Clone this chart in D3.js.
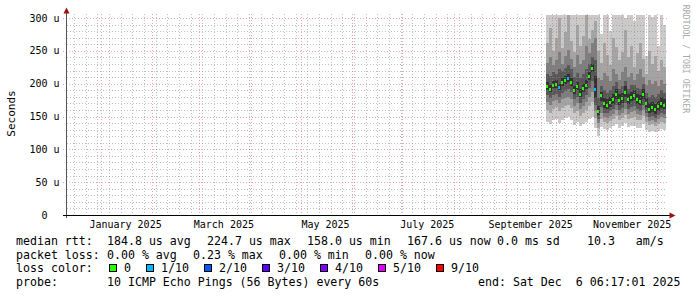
<!DOCTYPE html>
<html>
<head>
<meta charset="utf-8">
<script src="https://cdn.jsdelivr.net/npm/d3@7"></script>
<style>
    body { margin: 0; background: #fff; }
    svg { display: block; font-family: "DejaVu Sans Mono", monospace; }
</style>
</head>
<body>
<svg id="chart" width="697" height="297"></svg>
<script>
// time frame of the graph (last 360 days)
const endTime = new Date(Date.UTC(2025, 11, 6, 6, 17, 1))
const spanDays = 360
const dataStart = new Date(Date.UTC(2025, 8, 25, 6, 17, 1))
const stepHours = 43.2

// sorted pings per step, in microseconds (ping1 = fastest, ping10 = slowest)
const ping10 = [352, 338, 345, 360, 342, 336, 350, 365, 340, 334, 348, 339, 344, 358, 341, 347, 336,
    330, 276, 320, 312, 280, 335, 318, 308, 326, 300, 340, 315, 296, 322, 310, 328, 242, 312, 302, 318, 258, 306, 290]
const ping9 = [262, 285, 250, 270, 300, 255, 278, 310, 265, 248, 290, 258, 272, 305, 268, 282, 296,
    250, 232, 262, 244, 228, 270, 256, 236, 248, 282, 240, 258, 226, 246, 262, 238, 214, 250, 230, 242, 220, 236, 226]
const ping8 = [232, 240, 228, 236, 248, 230, 242, 252, 238, 226, 244, 230, 236, 258, 246, 262, 270,
    208, 205, 216, 212, 204, 222, 214, 206, 218, 226, 210, 216, 205, 214, 222, 210, 198, 206, 200, 204, 196, 206, 200]
const ping7 = [214, 212, 218, 215, 222, 220, 224, 228, 222, 210, 216, 208, 214, 222, 230, 240, 236,
    178, 196, 190, 186, 190, 196, 202, 192, 196, 204, 192, 198, 198, 194, 192, 200, 186, 180, 182, 180, 184, 190, 186]
const ping6 = [202, 198, 204, 206, 200, 209, 212, 214, 209, 196, 203, 192, 199, 206, 218, 230, 212,
    166, 188, 178, 176, 180, 184, 192, 184, 186, 196, 184, 188, 190, 184, 182, 192, 178, 170, 172, 169, 174, 179, 176]
const ping5 = [191, 188, 193, 194, 190, 197, 199, 202, 197, 185, 191, 179, 187, 192, 206, 218, 178,
    152, 174, 163, 161, 165, 169, 177, 168, 171, 180, 169, 173, 175, 169, 167, 177, 163, 155, 157, 154, 159, 163, 161]
const ping4 = [182, 178, 183, 185, 180, 186, 189, 192, 187, 176, 180, 170, 176, 182, 194, 204, 168,
    146, 164, 156, 155, 158, 161, 168, 160, 163, 170, 161, 165, 166, 161, 159, 168, 156, 149, 151, 148, 152, 156, 154]
const ping3 = [172, 168, 174, 175, 170, 176, 178, 180, 176, 166, 171, 162, 166, 172, 180, 188, 158,
    140, 155, 149, 148, 151, 154, 160, 153, 156, 162, 154, 157, 158, 154, 152, 160, 149, 143, 145, 142, 146, 149, 147]
const ping2 = [160, 156, 162, 164, 158, 163, 166, 168, 163, 155, 159, 151, 155, 160, 166, 172, 148,
    132, 146, 141, 140, 143, 146, 151, 145, 147, 152, 146, 148, 149, 145, 144, 151, 141, 137, 138, 136, 139, 142, 140]
const ping1 = [142, 138, 145, 146, 140, 144, 148, 150, 144, 137, 141, 135, 138, 142, 146, 150, 132,
    120, 134, 131, 130, 132, 135, 138, 133, 135, 140, 134, 136, 136, 133, 132, 138, 130, 127, 128, 126, 128, 131, 129]

// median rtt and loss level (index into lossColors)
const median = [196, 192, 198, 200, 195, 203, 205, 208, 203, 190, 197, 185, 193, 198, 212, 224, 192,
    158, 182, 170, 168, 172, 176, 185, 175, 178, 188, 176, 180, 182, 176, 174, 185, 170, 162, 164, 161, 166, 170, 168]
const loss = [0, 0, 0, 0, 1, 0, 0, 1, 0, 0, 0, 0, 0, 0, 0, 0, 1,
    0, 0, 0, 0, 0, 0, 0, 0, 0, 0, 0, 0, 0, 0, 0, 0, 0, 0, 0, 0, 0, 0, 0]

// axis ticks
const yTicks = [0, 50, 100, 150, 200, 250, 300]
const monthLabels = ['2025-01-01', '2025-03-01', '2025-05-01', '2025-07-01', '2025-09-01', '2025-11-01']

// legend
const lossLabels = ['0', '1/10', '2/10', '3/10', '4/10', '5/10', '9/10']
const lossColors = ['#26ff00', '#00b8ff', '#0059ff', '#5e00ff', '#7e00ff', '#dd00ff', '#ff0000']
const smokeColors = ['#cacaca', '#a4a4a4', '#7e7e7e', '#585858', '#323232']
const rttStats = [[16, 'median rtt:'], [107, '184.8 us avg'], [207, '224.7 us max'], [307, '158.0 us min'],
    [407, '167.6 us now'], [497, '0.0 ms sd'], [587, '10.3   am/s']]
const lossStats = [[16, 'packet loss:'], [107, '0.00 % avg'], [193, '0.23 % max'], [279, '0.00 % min'], [365, '0.00 % now']]

const gridMinor = 'rgba(140,140,140,0.55)'
const gridMajor = 'rgba(235,80,80,0.5)'

const svg = d3.select('#chart')

const x = d3.scaleTime()
    .domain([d3.utcDay.offset(endTime, -spanDays), endTime])
    .range([66, 666])

const y = d3.scaleLinear()
    .domain([0, 300])
    .range([215, 18])

const px = v => Math.round(v)
const stepMs = stepHours * 3600e3

const cols = median.map((m, k) => ({
    t0: new Date(+dataStart + k * stepMs),
    t1: new Date(+dataStart + (k + 1) * stepMs),
    median: m,
    loss: loss[k],
    k
}))

svg.append('rect')
    .attr('width', 697)
    .attr('height', 297)
    .attr('fill', '#fff')

svg.append('clipPath')
    .attr('id', 'plot')
    .append('rect')
        .attr('x', 66).attr('y', 15)
        .attr('width', 601).attr('height', 200)

const graph = svg.append('g')
    .attr('clip-path', 'url(#plot)')
    .attr('shape-rendering', 'crispEdges')

// smoke: band i spans from ping(i+1) to ping(10-i)
const bands = [[ping1, ping10], [ping2, ping9], [ping3, ping8], [ping4, ping7], [ping5, ping6]]

bands.forEach(([lo, hi], i) => {
    graph.append('g')
        .attr('fill', smokeColors[i])
        .selectAll('rect')
        .data(cols)
        .join('rect')
            .attr('x', d => px(x(d.t0)))
            .attr('width', d => px(x(d.t1)) - px(x(d.t0)))
            .attr('y', d => px(y(hi[d.k])))
            .attr('height', d => px(y(lo[d.k])) - px(y(hi[d.k])))
})

// median, coloured by loss
graph.append('g')
    .selectAll('rect')
    .data(cols)
    .join('rect')
        .attr('x', d => px(x(d.t0)))
        .attr('width', d => px(x(d.t1)) - px(x(d.t0)) - 1)
        .attr('y', d => px(y(d.median)) - 1)
        .attr('height', 3)
        .attr('fill', d => lossColors[d.loss])

// grid on top of the data
const grid = svg.append('g')
    .attr('shape-rendering', 'crispEdges')
    .attr('stroke-dasharray', '1,2')

const minorY = d3.range(0, 301, 10).filter(v => v % 50 !== 0)
grid.selectAll('.hminor')
    .data(minorY)
    .join('line')
        .attr('class', 'hminor')
        .attr('x1', 67).attr('x2', 667)
        .attr('y1', d => px(y(d)) + 0.5).attr('y2', d => px(y(d)) + 0.5)
        .attr('stroke', gridMinor)

const weeks = d3.utcMonday.range(x.domain()[0], endTime)
    .filter(d => d.getUTCDate() !== 1)
grid.selectAll('.vminor')
    .data(weeks)
    .join('line')
        .attr('class', 'vminor')
        .attr('x1', d => px(x(d)) + 0.5).attr('x2', d => px(x(d)) + 0.5)
        .attr('y1', 14).attr('y2', 215)
        .attr('stroke', gridMinor)

grid.selectAll('.hmajor')
    .data(yTicks.filter(v => v > 0))
    .join('line')
        .attr('class', 'hmajor')
        .attr('x1', 63).attr('x2', 667)
        .attr('y1', d => px(y(d)) + 0.5).attr('y2', d => px(y(d)) + 0.5)
        .attr('stroke', gridMajor)

const months = d3.utcMonth.range(x.domain()[0], endTime)
grid.selectAll('.vmajor')
    .data(months)
    .join('line')
        .attr('class', 'vmajor')
        .attr('x1', d => px(x(d)) + 0.5).attr('x2', d => px(x(d)) + 0.5)
        .attr('y1', 14).attr('y2', 218)
        .attr('stroke', gridMajor)

// axes
svg.append('line')
    .attr('x1', 66.5).attr('x2', 66.5)
    .attr('y1', 218).attr('y2', 12)
    .attr('stroke', '#555')
svg.append('line')
    .attr('x1', 63).attr('x2', 670)
    .attr('y1', 215.5).attr('y2', 215.5)
    .attr('stroke', '#000')
svg.append('path')
    .attr('d', 'M63.5,13.5 L69.5,13.5 L66.5,7.5 Z')
    .attr('fill', '#9b1010')
svg.append('path')
    .attr('d', 'M669.5,212.5 L669.5,218.5 L675.5,215.5 Z')
    .attr('fill', '#9b1010')

// y tick labels
svg.append('g')
    .attr('font-size', 10)
    .attr('text-anchor', 'end')
    .selectAll('text')
    .data(yTicks)
    .join('text')
        .attr('x', 59.5)
        .attr('y', d => y(d) + 3.6)
        .attr('xml:space', 'preserve')
        .style('white-space', 'pre')
        .text(d => d === 0 ? '0  ' : `${d} u`)

// month labels, placed half a month after the start of the month
const fmtMonth = d3.utcFormat('%B %Y')
svg.append('g')
    .attr('font-size', 10)
    .attr('text-anchor', 'middle')
    .selectAll('text')
    .data(monthLabels.map(s => new Date(s + 'T00:00:00Z')))
    .join('text')
        .attr('x', d => x(d3.utcDay.offset(d, 15)))
        .attr('y', 228)
        .text(d => fmtMonth(d))

svg.append('text')
    .attr('transform', 'translate(11,113.5) rotate(-90)')
    .attr('text-anchor', 'middle')
    .attr('dominant-baseline', 'central')
    .attr('font-size', 11)
    .text('Seconds')

svg.append('text')
    .attr('transform', 'translate(683,59) rotate(90)')
    .attr('text-anchor', 'middle')
    .attr('font-size', 8.2)
    .attr('fill', '#aaa')
    .text('RRDTOOL / TOBI OETIKER')

// legend
const legend = svg.append('g')
    .attr('font-size', 11.6)
    .style('white-space', 'pre')

const textRow = (items, yPos) => {
    legend.append('g')
        .selectAll('text')
        .data(items)
        .join('text')
            .attr('x', d => d[0])
            .attr('y', yPos)
            .attr('xml:space', 'preserve')
            .text(d => d[1])
}

textRow(rttStats, 245)
textRow(lossStats, 258.7)

legend.append('text')
    .attr('x', 16).attr('y', 272.4)
    .text('loss color:')

let lx = 108.5
const swatches = lossLabels.map((label, i) => {
    const item = { label, color: lossColors[i], x: lx }
    lx += 15.5 + label.length * 7 + 14.5
    return item
})

legend.append('g')
    .selectAll('rect')
    .data(swatches)
    .join('rect')
        .attr('x', d => d.x + 0.5)
        .attr('y', 264.5)
        .attr('width', 7)
        .attr('height', 7)
        .attr('fill', d => d.color)
        .attr('stroke', '#000')
        .attr('shape-rendering', 'crispEdges')

legend.append('g')
    .selectAll('text')
    .data(swatches)
    .join('text')
        .attr('x', d => d.x + 15.5)
        .attr('y', 272.4)
        .text(d => d.label)

textRow([[16, 'probe:'], [107, '10 ICMP Echo Pings (56 Bytes) every 60s'], [478, 'end: Sat Dec  6 06:17:01 2025']], 286)
</script>
</body>
</html>
